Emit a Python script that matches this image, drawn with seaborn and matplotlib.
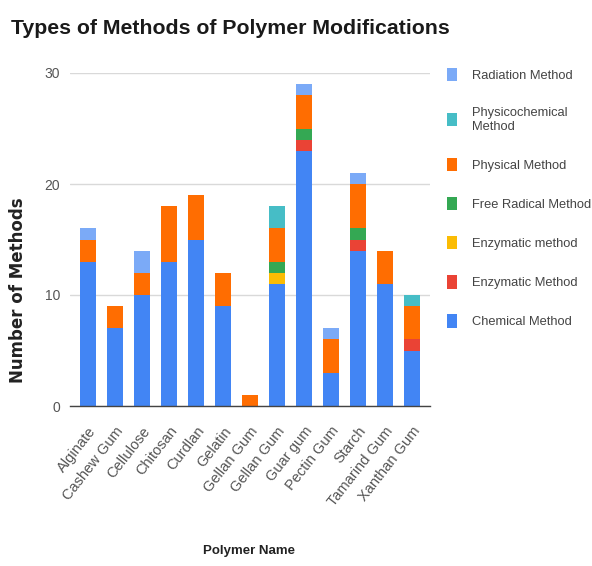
import matplotlib
matplotlib.use("Agg")
import matplotlib.pyplot as plt
from matplotlib.patches import Patch
import seaborn as sns
import numpy as np

polymers = ["Alginate", "Cashew Gum", "Cellulose", "Chitosan", "Curdlan", "Gelatin",
            "Gellan Gum", "Gellan Gum", "Guar gum", "Pectin Gum", "Starch",
            "Tamarind Gum", "Xanthan Gum"]

chemical        = [13, 7, 10, 13, 15, 9, 0, 11, 23, 3, 14, 11, 5]
enzymatic_upper = [0, 0, 0, 0, 0, 0, 0, 0, 1, 0, 1, 0, 1]
enzymatic_lower = [0, 0, 0, 0, 0, 0, 0, 1, 0, 0, 0, 0, 0]
free_radical    = [0, 0, 0, 0, 0, 0, 0, 1, 1, 0, 1, 0, 0]
physical        = [2, 2, 2, 5, 4, 3, 1, 3, 3, 3, 4, 3, 3]
physicochemical = [0, 0, 0, 0, 0, 0, 0, 2, 0, 0, 0, 0, 1]
radiation       = [1, 0, 2, 0, 0, 0, 0, 0, 1, 1, 1, 0, 0]

# bottom-to-top stacking order
series_names = ["Chemical Method", "Enzymatic Method", "Enzymatic method",
                "Free Radical Method", "Physical Method",
                "Physicochemical\nMethod", "Radiation Method"]
series_values = [chemical, enzymatic_upper, enzymatic_lower, free_radical,
                 physical, physicochemical, radiation]
series_colors = ["#4285F4", "#EA4335", "#FBBC04", "#34A853", "#FF6D01",
                 "#46BDC6", "#7BAAF7"]

sns.set_theme(style="white")
plt.rcParams["font.family"] = ["Liberation Sans", "DejaVu Sans"]

fig = plt.figure(figsize=(5.92, 5.66), dpi=100)
ax = fig.add_axes([70 / 592, 1 - 406 / 566, 360 / 592, 333 / 566])

pos = [str(i) for i in range(len(polymers))]
cum = np.zeros(len(polymers))
tops = []
for vals in series_values:
    cum = cum + np.array(vals)
    tops.append(cum.copy())

# draw cumulative totals from the top segment down so lower segments overlay
for name, color, top in reversed(list(zip(series_names, series_colors, tops))):
    sns.barplot(x=pos, y=top, order=pos, color=color, saturation=1,
                width=0.6, ax=ax, linewidth=0)

ax.set_ylim(0, 30)
ax.set_xlim(-0.67, len(polymers) - 0.33)
ax.set_yticks([0, 10, 20, 30])
ax.yaxis.grid(True, color="#d9d9d9", linewidth=1)
ax.set_axisbelow(True)
for s in ["top", "right", "left"]:
    ax.spines[s].set_visible(False)
ax.spines["bottom"].set_color("#444444")
ax.spines["bottom"].set_linewidth(1)
ax.tick_params(axis="y", length=0, pad=7, labelsize=10, labelcolor="#555555")
ax.tick_params(axis="x", length=0, pad=13, labelsize=10.5, labelcolor="#555555")
ax.set_xticks(range(len(polymers)))
ax.set_xticklabels(polymers, rotation=52, ha="right", rotation_mode="anchor")
ax.set_xlabel("")
ax.set_ylabel("")

fig.text(11 / 592, 1 - 34 / 566, "Types of Methods of Polymer Modifications",
         fontsize=15.3, fontweight="bold", color="#1a1a1a",
         ha="left", va="baseline")
fig.text(18 / 592, 1 - 290 / 566, "Number of Methods", rotation=90,
         fontsize=12, fontweight="bold", family=["DejaVu Sans"],
         color="#222222", ha="center", va="center")
fig.text(249 / 592, 1 - 551 / 566, "Polymer Name", fontsize=9.5,
         fontweight="bold", color="#222222", ha="center", va="center")

handles = [Patch(facecolor=c, edgecolor="none", label=n)
           for n, c in zip(series_names, series_colors)][::-1]
leg = fig.legend(handles=handles, loc="upper left",
                 bbox_to_anchor=(435 / 592, 1 - 56 / 566), frameon=False,
                 fontsize=9.3, labelcolor="#444444", handlelength=0.8,
                 handleheight=1.2, handletextpad=1.2, labelspacing=1.95)

fig.savefig("out.png", dpi=100, facecolor="white")
